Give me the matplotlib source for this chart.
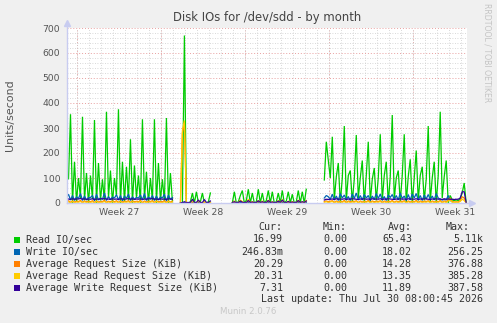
import numpy as np
import matplotlib.pyplot as plt
from matplotlib.patches import Rectangle

# x axis: days since graph start, one sample every 4 hours
seg_start = [0.0, 9.5, 13.83, 21.5]

read_io = [
    [105, 95, 355, 0, 165, 5,
     100, 20, 345, 10, 120, 0,
     110, 15, 332, 0, 160, 10,
     95, 5, 365, 20, 130, 0,
     100, 30, 375, 0, 165, 5,
     145, 10, 255, 0, 150, 20,
     110, 0, 335, 15, 125, 0,
     100, 10, 335, 0, 160, 10,
     95, 5, 340, 0, 120, 5],
    [0, 0, 670, 0, 0, 5, 40, 0, 45, 0, 5, 40, 0, 0, 5, 40],
    [0, 45, 0, 5, 30, 50, 0, 10, 55, 0, 40, 0, 5, 55, 0, 40, 0, 10,
     50, 0, 45, 0, 5, 40, 0, 50, 0, 8, 45, 0, 35, 0, 5, 50, 0, 45, 0, 55],
    [92, 245, 170, 100,
     265, 15, 105, 160, 0, 100,
     308, 10, 110, 130, 5, 95,
     272, 20, 100, 170, 0, 110,
     245, 5, 95, 140, 10, 100,
     275, 10, 110, 165, 0, 105,
     352, 15, 100, 130, 5, 110,
     275, 0, 105, 175, 0, 100,
     210, 10, 110, 145, 10, 95,
     308, 5, 100, 165, 0, 110,
     365, 20, 105, 170, 0, 30,
     12, 10, 12, 10, 15, 40,
     80, 0],
]

write_io = [
    [20, 35, 12, 30, 10, 25, 18, 38, 10, 28, 12, 22, 22, 30, 8, 35, 12, 20,
     15, 40, 10, 26, 14, 24, 20, 33, 12, 30, 8, 28, 18, 36, 10, 25, 15, 22,
     20, 32, 12, 38, 10, 25, 16, 30, 10, 28, 12, 24, 20, 35, 8, 32, 14, 22],
    [0, 1, 2, 0, 0, 0, 3, 0, 0, 3, 0, 0, 2, 0, 0, 2],
    [0, 1, 0, 0, 2, 1, 0, 0, 2, 0, 1, 0, 0, 2, 0, 1, 0, 0, 2,
     0, 1, 0, 0, 2, 0, 2, 0, 0, 1, 0, 1, 0, 0, 2, 0, 1, 0, 2],
    [20, 30, 25, 15,
     35, 12, 28, 10, 38, 20, 32, 14, 26, 10, 36, 18,
     40, 12, 30, 12, 34, 20, 30, 10, 28, 14, 38, 18,
     36, 12, 26, 10, 32, 22, 34, 14, 30, 12, 40, 18,
     28, 10, 34, 12, 36, 20, 38, 12, 30, 10, 32, 16,
     34, 14, 28, 12, 38, 20, 15, 12, 14, 12, 30, 10,
     5, 0],
]

avg_size = [
    [5, 9, 3, 8, 4, 7, 6, 10, 3, 8, 5, 7, 5, 9, 2, 8, 4, 6,
     6, 10, 3, 7, 5, 8, 5, 9, 3, 8, 4, 7, 6, 9, 3, 8, 5, 7,
     5, 10, 2, 8, 4, 7, 6, 9, 3, 8, 5, 6, 5, 9, 3, 8, 4, 7],
    [0, 280, 320, 0, 0, 0, 6, 0, 0, 8, 0, 0, 4, 0, 0, 2],
    [0, 6, 0, 0, 10, 4, 0, 0, 12, 0, 5, 0, 0, 8, 0, 6, 0, 0, 10,
     0, 4, 0, 0, 8, 0, 11, 0, 0, 6, 0, 5, 0, 0, 10, 0, 4, 0, 8],
    [6, 8, 5, 7,
     9, 3, 8, 4, 7, 5, 10, 3, 8, 5, 7, 6, 9, 2, 8, 4, 7, 5,
     10, 3, 8, 5, 7, 6, 9, 3, 8, 4, 7, 5, 10, 3, 8, 5, 7, 6,
     9, 2, 8, 4, 7, 5, 10, 3, 8, 5, 7, 6, 9, 3, 8, 4, 7, 5,
     10, 3, 8, 5, 12, 20, 6, 4, 5, 4, 10, 25,
     20, 0],
]

avg_read = [
    [2, 5, 0, 6, 1, 4, 3, 6, 1, 5, 2, 4, 2, 5, 0, 6, 1, 3,
     3, 6, 1, 4, 2, 5, 2, 5, 0, 6, 1, 4, 3, 5, 1, 5, 2, 4,
     2, 6, 0, 5, 1, 4, 3, 5, 1, 6, 2, 3, 2, 5, 0, 6, 1, 4],
    [0, 290, 330, 0, 0, 0, 8, 0, 0, 10, 0, 0, 5, 0, 0, 3],
    [0, 8, 0, 0, 12, 5, 0, 0, 15, 0, 6, 0, 0, 10, 0, 8, 0, 0, 12,
     0, 5, 0, 0, 10, 0, 14, 0, 0, 8, 0, 6, 0, 0, 12, 0, 5, 0, 10],
    [3, 5, 2, 4,
     6, 1, 5, 2, 4, 3, 6, 0, 5, 2, 4, 3, 6, 1, 5, 2, 4, 3,
     6, 1, 5, 2, 4, 3, 6, 0, 5, 2, 4, 3, 6, 1, 5, 2, 4, 3,
     6, 1, 5, 2, 4, 3, 6, 0, 5, 2, 4, 3, 6, 1, 5, 2, 4, 3,
     6, 1, 5, 2, 8, 12, 3, 2, 3, 2, 6, 15,
     10, 0],
]

avg_write = [
    [15, 16, 14, 17, 15, 16, 16, 18, 15, 17, 14, 16, 15, 17, 14, 16, 15, 17,
     16, 18, 15, 16, 14, 17, 15, 16, 14, 17, 16, 15, 16, 18, 15, 17, 14, 16,
     15, 17, 14, 16, 15, 17, 16, 18, 15, 16, 14, 17, 15, 16, 14, 17, 16, 15],
    [0, 2, 5, 2, 2, 2, 15, 2, 2, 12, 2, 2, 14, 2, 2, 8],
    [2, 5, 2, 2, 8, 3, 2, 2, 10, 2, 4, 2, 2, 9, 2, 5, 2, 2, 10,
     2, 4, 2, 2, 8, 2, 12, 2, 2, 6, 2, 4, 2, 2, 10, 2, 5, 2, 8],
    [12, 15, 14, 15,
     16, 14, 17, 15, 16, 15, 17, 14, 16, 15, 17, 16, 15, 14, 16, 15, 17, 15,
     16, 14, 17, 15, 16, 15, 17, 14, 16, 15, 17, 16, 15, 14, 16, 15, 17, 15,
     16, 14, 17, 15, 16, 15, 17, 14, 16, 15, 17, 16, 15, 14, 16, 15, 17, 15,
     16, 14, 17, 15, 16, 15, 15, 14, 15, 15, 20, 45,
     45, 0],
]

week_starts = [0.875, 7.875, 14.875, 21.875, 28.875]
week_mid = [4.375, 11.375, 18.375, 25.375, 32.375]
week_labels = ["Week 27", "Week 28", "Week 29", "Week 30", "Week 31"]

legend_names = ["Read IO/sec", "Write IO/sec", "Average Request Size (KiB)",
                "Average Read Request Size (KiB)", "Average Write Request Size (KiB)"]
legend_cur = ["16.99", "246.83m", "20.29", "20.31", "7.31"]
legend_min = ["0.00", "0.00", "0.00", "0.00", "0.00"]
legend_avg = ["65.43", "18.02", "14.28", "13.35", "11.89"]
legend_max = ["5.11k", "256.25", "376.88", "385.28", "387.58"]
colors = ["#00cc00", "#0066b3", "#ff8000", "#ffcc00", "#330099"]

W, H = 497, 323
fig = plt.figure(figsize=(W / 100, H / 100), dpi=100, facecolor="#f0f0f0")
ax = fig.add_axes([66.5 / W, 120 / H, 400.5 / W, 175 / H])
ax.set_facecolor("white")

series = [read_io, write_io, avg_size, avg_read, avg_write]
for data, col in zip(series, colors):
    for start, vals in zip(seg_start, data):
        t = start + np.arange(len(vals)) / 6
        ax.plot(t, vals, color=col, lw=0.9, solid_joinstyle="miter", zorder=3)

ax.set_xlim(0, 33.4)
ax.set_ylim(0, 700)

# grid
ax.set_yticks(range(0, 701, 100))
ax.set_yticks(range(0, 701, 20), minor=True)
ax.set_xticks(week_mid, week_labels)
ax.set_xticks(np.arange(week_starts[0], 33.4, 1.0), minor=True)
ax.grid(True, which="minor", color="#cccccc", linestyle=(0, (1, 2)), lw=0.6, zorder=0)
ax.yaxis.grid(True, which="major", color="#e8a0a0", linestyle=(0, (1, 2)), lw=0.7, zorder=1)
for w in week_starts:
    ax.axvline(w, color="#e8a0a0", linestyle=(0, (1, 2)), lw=0.7, zorder=1)

ax.tick_params(which="both", length=0)
ax.tick_params(axis="y", labelsize=6.7, colors="#555555", pad=4.5)
ax.tick_params(axis="x", labelsize=6.7, colors="#555555", pad=3.5)
for s in ax.spines.values():
    s.set_visible(False)

# rrdtool style axes with arrows
axis_col = "#c8ccf0"
ax.plot([0, 0], [0, 1.03], transform=ax.transAxes, color=axis_col, lw=1, clip_on=False, zorder=4)
ax.plot([0], [1.03], transform=ax.transAxes, marker="^", ms=4, color=axis_col, clip_on=False)
ax.plot([0, 1.012], [0, 0], transform=ax.transAxes, color=axis_col, lw=1, clip_on=False, zorder=4)
ax.plot([1.012], [0], transform=ax.transAxes, marker=">", ms=4, color=axis_col, clip_on=False)

ax.set_ylabel("Units/second", fontsize=7.9, color="#555555")
ax.yaxis.set_label_coords(-51.5 / 400.5, (203 - 114.7) / 175)
fig.text(267 / W, 1 - 18 / H, "Disk IOs for /dev/sdd - by month", ha="center", va="center",
         fontsize=8.4, color="#444444")
fig.text(487 / W, 1 - 53 / H, "RRDTOOL / TOBI OETIKER", rotation=270, ha="center", va="center",
         fontsize=5.6, color="#c4c4c4")

# legend block
mono = "DejaVu Sans Mono"
fs = 7.2
tc = "#333333"
def fy(y):
    return 1 - y / H
for x, lab in zip([282, 347, 412, 470], ["Cur:", "Min:", "Avg:", "Max:"]):
    fig.text(x / W, fy(227), lab, ha="right", va="center", family=mono, fontsize=fs, color=tc)
row_y = [239.5, 251.7, 263.7, 275.7, 287.7]
for i in range(5):
    y = row_y[i]
    fig.patches.append(Rectangle((14 / W, fy(y + 3)), 6 / W, 6 / H, transform=fig.transFigure,
                                 facecolor=colors[i], edgecolor="none"))
    fig.text(26 / W, fy(y), legend_names[i], ha="left", va="center", family=mono, fontsize=fs, color=tc)
    fig.text(283 / W, fy(y), legend_cur[i], ha="right", va="center", family=mono, fontsize=fs, color=tc)
    fig.text(347 / W, fy(y), legend_min[i], ha="right", va="center", family=mono, fontsize=fs, color=tc)
    fig.text(412 / W, fy(y), legend_avg[i], ha="right", va="center", family=mono, fontsize=fs, color=tc)
    fig.text(483 / W, fy(y), legend_max[i], ha="right", va="center", family=mono, fontsize=fs, color=tc)
fig.text(483 / W, fy(299.5), "Last update: Thu Jul 30 08:00:45 2026", ha="right", va="center",
         family=mono, fontsize=fs, color=tc)
fig.text(248 / W, fy(312), "Munin 2.0.76", ha="center", va="center", fontsize=6.2, color="#c8c8c8")

fig.savefig("out.png", dpi=100, facecolor=fig.get_facecolor())
